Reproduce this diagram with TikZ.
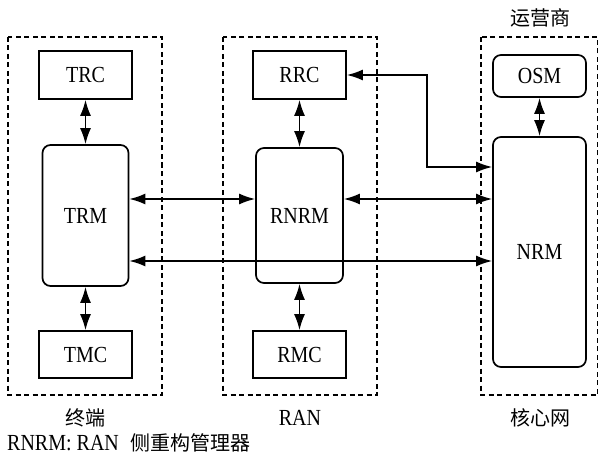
\documentclass[tikz,border=0pt]{standalone}
\usepackage{fontspec}
\setmainfont{Liberation Serif}
\newfontfamily\cjk{Noto Sans CJK SC}
\usetikzlibrary{arrows.meta}
\newcommand\st[1]{\scalebox{1}[1.15]{#1}}
\begin{document}
\begin{tikzpicture}[x=1pt,y=-1pt,
  box/.style={draw,line width=1.7pt,inner sep=0pt,font=\fontsize{20}{20}\selectfont},
  rbox/.style={box,rounded corners=8pt},
  grp/.style={draw,line width=1.4pt,dash pattern=on 5pt off 3.5pt},
  arr/.style={line width=1.6pt,{Latex[length=16pt,width=11pt]}-{Latex[length=16pt,width=11pt]}},
  lbl/.style={inner sep=0pt,font=\fontsize{20}{20}\selectfont}]
\useasboundingbox (0,0) rectangle (599,457);
% groups
\draw[grp] (8,37) rectangle (162,395);
\draw[grp] (223,37) rectangle (377,395);
\draw[grp] (481,37) rectangle (597.5,395);
% nodes
\node[box,minimum width=93pt,minimum height=48pt] (TRC) at (85.5,75) {\st{TRC}};
\node[rbox,minimum width=86pt,minimum height=141pt] (TRM) at (85.5,215.5) {\st{TRM}};
\node[box,minimum width=93pt,minimum height=47pt] (TMC) at (85.5,354.5) {\st{TMC}};
\node[box,minimum width=93pt,minimum height=48pt] (RRC) at (299.5,75) {\st{RRC}};
\node[rbox,minimum width=87pt,minimum height=135pt] (RNRM) at (299.5,215.5) {\st{RNRM}};
\node[box,minimum width=93pt,minimum height=47pt] (RMC) at (299.5,354.5) {\st{RMC}};
\node[rbox,minimum width=93pt,minimum height=42pt] (OSM) at (539.5,76) {\st{OSM}};
\node[rbox,minimum width=93pt,minimum height=230pt] (NRM) at (539.5,252) {\st{NRM}};
% labels
\node[lbl] (op) at (540,18) {\cjk 运营商};
\node[lbl] (term) at (85,418) {\cjk 终端};
\node[lbl] (ran) at (300,418) {\st{RAN}};
\node[lbl] (core) at (540,418) {\cjk 核心网};
\node[lbl,anchor=west] (note) at (7,443) {\st{RNRM: RAN}\hspace{0.6em}{\cjk 侧重构管理器}};
% coordinates
\coordinate (h1) at (0,199);
\coordinate (h2) at (0,261);
\coordinate (h3) at (0,167);
\coordinate (bend) at (427,75);
% connectors
\draw[arr] (TRC.south) -- (TRM.north);
\draw[arr] (TRM.south) -- (TMC.north);
\draw[arr] (RRC.south) -- (RNRM.north);
\draw[arr] (RNRM.south) -- (RMC.north);
\draw[arr] (OSM.south) -- (NRM.north);
\draw[arr] (TRM.east |- h1) -- (RNRM.west |- h1);
\draw[arr] (RNRM.east |- h1) -- (NRM.west |- h1);
\draw[arr] (TRM.east |- h2) -- (NRM.west |- h2);
\draw[arr] (RRC.east) -- (bend) |- (NRM.west |- h3);
\end{tikzpicture}
\end{document}
